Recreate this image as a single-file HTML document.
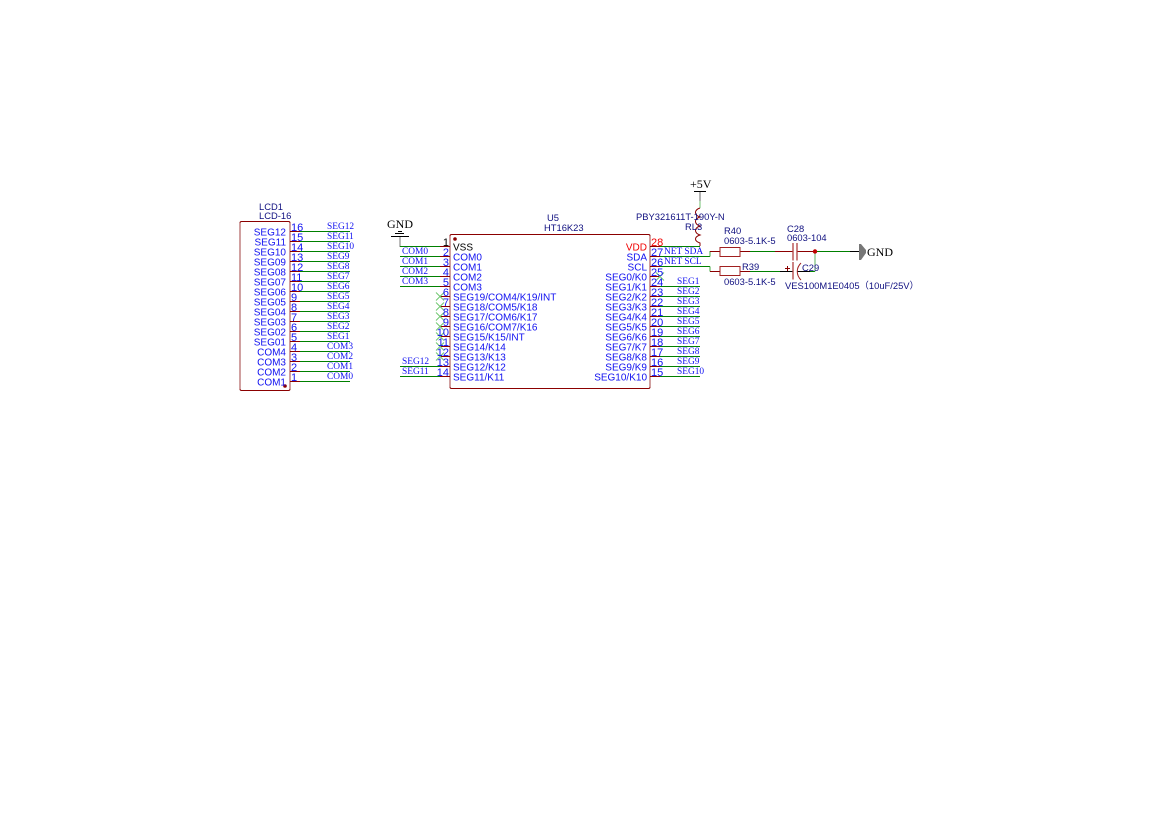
<!DOCTYPE html>
<html><head><meta charset="utf-8"><style>
html,body{margin:0;padding:0;background:#fff;width:1169px;height:827px;overflow:hidden}
svg{display:block}
.s{font-family:"Liberation Sans","Noto Sans CJK SC",sans-serif;font-size:10px}
.n{font-family:"Liberation Sans",sans-serif;font-size:11px}
.l{font-family:"Liberation Sans","Noto Sans CJK SC",sans-serif;font-size:9.4px;fill:#101080}
.b{fill:#1010f0}
.t{font-family:"Liberation Serif",serif;font-size:9.4px;fill:#1010f0}
.k{font-family:"Liberation Serif",serif;font-size:12px;fill:#000}
.r{stroke:#8b0000;fill:none;stroke-width:1}
.g{stroke:#008000;fill:none;stroke-width:1}
.e{text-anchor:end}
</style></head><body>
<svg width="1169" height="827" viewBox="0 0 1169 827" xmlns="http://www.w3.org/2000/svg">
<!-- LCD -->
<rect x="240" y="221.5" width="50" height="169" rx="1.5" fill="#fff" stroke="#8b0000"/>
<line x1="240" y1="223" x2="240" y2="389" stroke="#c08080" stroke-width="1.500"/>
<line x1="290" y1="223" x2="290" y2="389" stroke="#c08080" stroke-width="1.500"/>
<circle cx="285" cy="386" r="1.8" fill="#8b0000"/>
<path class="r" transform="translate(0,-.5)" d="M290 232h10M290 242h10M290 252h10M290 262h10M290 272h10M290 282h10M290 292h10M290 302h10M290 312h10M290 322h10M290 332h10M290 342h10M290 352h10M290 362h10M290 372h10M290 382h10"/>
<path class="g" transform="translate(0,-.5)" d="M300 232h50M300 242h50M300 252h50M300 262h50M300 272h50M300 282h50M300 292h50M300 302h50M300 312h50M300 322h50M300 332h50M300 342h50M300 352h50M300 362h50M300 372h50M300 382h50"/>
<text class="l" x="259" y="210">LCD1</text>
<text class="l" x="259" y="219">LCD-16</text>
<g class="s b e">
<text x="286" y="235.5">SEG12</text><text x="286" y="245.5">SEG11</text><text x="286" y="255.5">SEG10</text><text x="286" y="265.5">SEG09</text>
<text x="286" y="275.5">SEG08</text><text x="286" y="285.5">SEG07</text><text x="286" y="295.5">SEG06</text><text x="286" y="305.5">SEG05</text>
<text x="286" y="315.5">SEG04</text><text x="286" y="325.5">SEG03</text><text x="286" y="335.5">SEG02</text><text x="286" y="345.5">SEG01</text>
<text x="286" y="355.5">COM4</text><text x="286" y="365.5">COM3</text><text x="286" y="375.5">COM2</text><text x="286" y="385.5">COM1</text>
</g>
<g class="n b">
<text x="291" y="231">16</text><text x="291" y="241">15</text><text x="291" y="251">14</text><text x="291" y="261">13</text>
<text x="291" y="271">12</text><text x="291" y="281">11</text><text x="291" y="291">10</text><text x="291" y="301">9</text>
<text x="291" y="311">8</text><text x="291" y="321">7</text><text x="291" y="331">6</text><text x="291" y="341">5</text>
<text x="291" y="351">4</text><text x="291" y="361">3</text><text x="291" y="371">2</text><text x="291" y="381">1</text>
</g>
<g class="t">
<text x="327" y="229">SEG12</text><text x="327" y="239">SEG11</text><text x="327" y="249">SEG10</text><text x="327" y="259">SEG9</text>
<text x="327" y="269">SEG8</text><text x="327" y="279">SEG7</text><text x="327" y="289">SEG6</text><text x="327" y="299">SEG5</text>
<text x="327" y="309">SEG4</text><text x="327" y="319">SEG3</text><text x="327" y="329">SEG2</text><text x="327" y="339">SEG1</text>
<text x="327" y="349">COM3</text><text x="327" y="359">COM2</text><text x="327" y="369">COM1</text><text x="327" y="379">COM0</text>
</g>
<!-- GND left -->
<text class="k" x="387" y="228">GND</text>
<path d="M391 236.5h18M395 233.5h9M398 231.5h4" stroke="#000" fill="none"/>
<line x1="400" y1="237" x2="400" y2="247" stroke="#777"/>
<!-- U5 -->
<rect x="450" y="234.5" width="200" height="154" rx="1.5" fill="#fff" stroke="#8b0000"/>
<line x1="450" y1="236" x2="450" y2="387" stroke="#c08080" stroke-width="1.500"/>
<line x1="650" y1="236" x2="650" y2="387" stroke="#c08080" stroke-width="1.500"/>
<circle cx="455" cy="239" r="1.8" fill="#8b0000"/>
<text class="l" x="547" y="221">U5</text>
<text class="l" x="544" y="231">HT16K23</text>
<path class="r" transform="translate(0,-.5)" d="M440 247h10M440 257h10M440 267h10M440 277h10M440 287h10M440 297h10M440 307h10M440 317h10M440 327h10M440 337h10M440 347h10M440 357h10M440 367h10M440 377h10"/>
<path class="g" transform="translate(0,-.5)" d="M400 247h40M400 257h40M400 267h40M400 277h40M400 287h40M400 367h40M400 377h40"/>
<path d="M436 292.500l8 8M444 292.500l-8 8M436 302.500l8 8M444 302.500l-8 8M436 312.500l8 8M444 312.500l-8 8M436 322.500l8 8M444 322.500l-8 8M436 332.500l8 8M444 332.500l-8 8M436 342.500l8 8M444 342.500l-8 8M436 352.500l8 8M444 352.500l-8 8" stroke="#70c870" fill="none"/>
<g class="n" text-anchor="end">
<text x="449" y="246" fill="#000">1</text>
<g class="b"><text x="449" y="256">2</text><text x="449" y="266">3</text><text x="449" y="276">4</text><text x="449" y="286">5</text><text x="449" y="296">6</text><text x="449" y="306">7</text><text x="449" y="316">8</text><text x="449" y="326">9</text><text x="449" y="336">10</text><text x="449" y="346">11</text><text x="449" y="356">12</text><text x="449" y="366">13</text><text x="449" y="376">14</text></g>
</g>
<g class="t">
<text x="402" y="254">COM0</text><text x="402" y="264">COM1</text><text x="402" y="274">COM2</text><text x="402" y="284">COM3</text>
<text x="402" y="364">SEG12</text><text x="402" y="374">SEG11</text>
</g>
<text class="s" x="453" y="250.5" fill="#000">VSS</text>
<g class="s b">
<text x="453" y="260.5">COM0</text><text x="453" y="270.5">COM1</text><text x="453" y="280.5">COM2</text><text x="453" y="290.5">COM3</text>
<text x="453" y="300.5">SEG19/COM4/K19/INT</text><text x="453" y="310.5">SEG18/COM5/K18</text><text x="453" y="320.5">SEG17/COM6/K17</text><text x="453" y="330.5">SEG16/COM7/K16</text>
<text x="453" y="340.5">SEG15/K15/INT</text><text x="453" y="350.5">SEG14/K14</text><text x="453" y="360.5">SEG13/K13</text><text x="453" y="370.5">SEG12/K12</text><text x="453" y="380.5">SEG11/K11</text>
</g>
<text class="s e" x="647" y="250.5" fill="#f00000">VDD</text>
<g class="s b e">
<text x="647" y="260.5">SDA</text><text x="647" y="270.5">SCL</text><text x="647" y="280.5">SEG0/K0</text><text x="647" y="290.5">SEG1/K1</text>
<text x="647" y="300.5">SEG2/K2</text><text x="647" y="310.5">SEG3/K3</text><text x="647" y="320.5">SEG4/K4</text><text x="647" y="330.5">SEG5/K5</text>
<text x="647" y="340.5">SEG6/K6</text><text x="647" y="350.5">SEG7/K7</text><text x="647" y="360.5">SEG8/K8</text><text x="647" y="370.5">SEG9/K9</text><text x="647" y="380.5">SEG10/K10</text>
</g>
<path class="r" transform="translate(0,-.5)" d="M650 247h10M650 257h10M650 267h10M650 277h10M650 287h10M650 297h10M650 307h10M650 317h10M650 327h10M650 337h10M650 347h10M650 357h10M650 367h10M650 377h10"/>
<path class="g" transform="translate(0,-.5)" d="M660 247h40M660 257h50M660 267h50M660 287h40M660 297h40M660 307h40M660 317h40M660 327h40M660 337h40M660 347h40M660 357h40M660 367h40M660 377h40"/>
<path d="M656 272.500l8 8M664 272.500l-8 8" stroke="#70c870" fill="none"/>
<g class="n">
<text x="651" y="246" fill="#f00000">28</text>
<g class="b"><text x="651" y="256">27</text><text x="651" y="266">26</text><text x="651" y="276">25</text><text x="651" y="286">24</text><text x="651" y="296">23</text><text x="651" y="306">22</text><text x="651" y="316">21</text><text x="651" y="326">20</text><text x="651" y="336">19</text><text x="651" y="346">18</text><text x="651" y="356">17</text><text x="651" y="366">16</text><text x="651" y="376">15</text></g>
</g>
<g class="t">
<text x="664" y="254">NET SDA</text><text x="664" y="264">NET SCL</text>
<text x="677" y="284">SEG1</text><text x="677" y="294">SEG2</text><text x="677" y="304">SEG3</text><text x="677" y="314">SEG4</text><text x="677" y="324">SEG5</text><text x="677" y="334">SEG6</text><text x="677" y="344">SEG7</text><text x="677" y="354">SEG8</text><text x="677" y="364">SEG9</text><text x="677" y="374">SEG10</text>
</g>
<!-- +5V + inductor -->
<text class="k" x="690" y="188">+5V</text>
<path d="M694 191.500h12" stroke="#000" fill="none"/>
<line x1="700" y1="192" x2="700" y2="201" stroke="#666"/>
<line x1="700" y1="201" x2="700" y2="208" stroke="#70c070"/>
<path class="r" d="M700 208c-6 2 -6 7 0 9c-6 2 -6 7 0 9c-6 2 -6 7 0 9c-6 2 -6 6 0 8v3"/>
<text class="l" x="636" y="220">PBY321611T-190Y-N</text>
<text class="l" x="685" y="230">RL3</text>
<!-- R40 / R39 -->
<path d="M710 256.500v-5.500M710 266.500v5" stroke="#40a840" fill="none"/>
<path class="r" d="M710 251.500h10M740 251.500h10M710 271.500h10M740 271.500h10"/>
<rect x="720" y="247.500" width="20" height="9" fill="#fff" stroke="#a02020"/>
<rect x="720" y="266.500" width="20" height="9" fill="#fff" stroke="#a02020"/>
<text class="l" x="724" y="234">R40</text>
<text class="l" x="724" y="244">0603-5.1K-5</text>
<text class="l" x="742" y="270">R39</text>
<text class="l" x="724" y="285">0603-5.1K-5</text>
<!-- C28 -->
<path class="g" d="M750 251.500h25M815 251.500h35M750 271.500h30M810 271.500h5"/>
<path class="r" d="M775 251.500h18M797 251.500h18"/>
<path d="M793 243v17.500M797 243v17.500" stroke="#b04040" stroke-width="1.300" fill="none"/>
<line x1="815" y1="252" x2="815" y2="271.500" stroke="#60b060"/>
<circle cx="815" cy="251.500" r="2.200" fill="#c00000"/>
<path d="M850 251.500h9" stroke="#000" fill="none"/>
<path d="M859 244h2l5 6v3l-5 7h-2z" fill="#777"/>
<text class="k" x="867" y="256">GND</text>
<!-- C29 -->
<path d="M780 271.500h13M797 271.500h13" stroke="#000" fill="none"/>
<path d="M793 262v17.500" stroke="#b04040" stroke-width="1.300" fill="none"/>
<path d="M801 263c-5 5 -5 12 0 17" stroke="#a02020" fill="none"/>
<path d="M785 268.500h5M787.500 266v5" stroke="#8b0000" fill="none"/>
<text class="l" x="802" y="271">C29</text>
<text class="l" x="787" y="232">C28</text>
<text class="l" x="787" y="241">0603-104</text>
<text class="l" x="785" y="289">VES100M1E0405（10uF/25V）</text>
</svg>
</body></html>
